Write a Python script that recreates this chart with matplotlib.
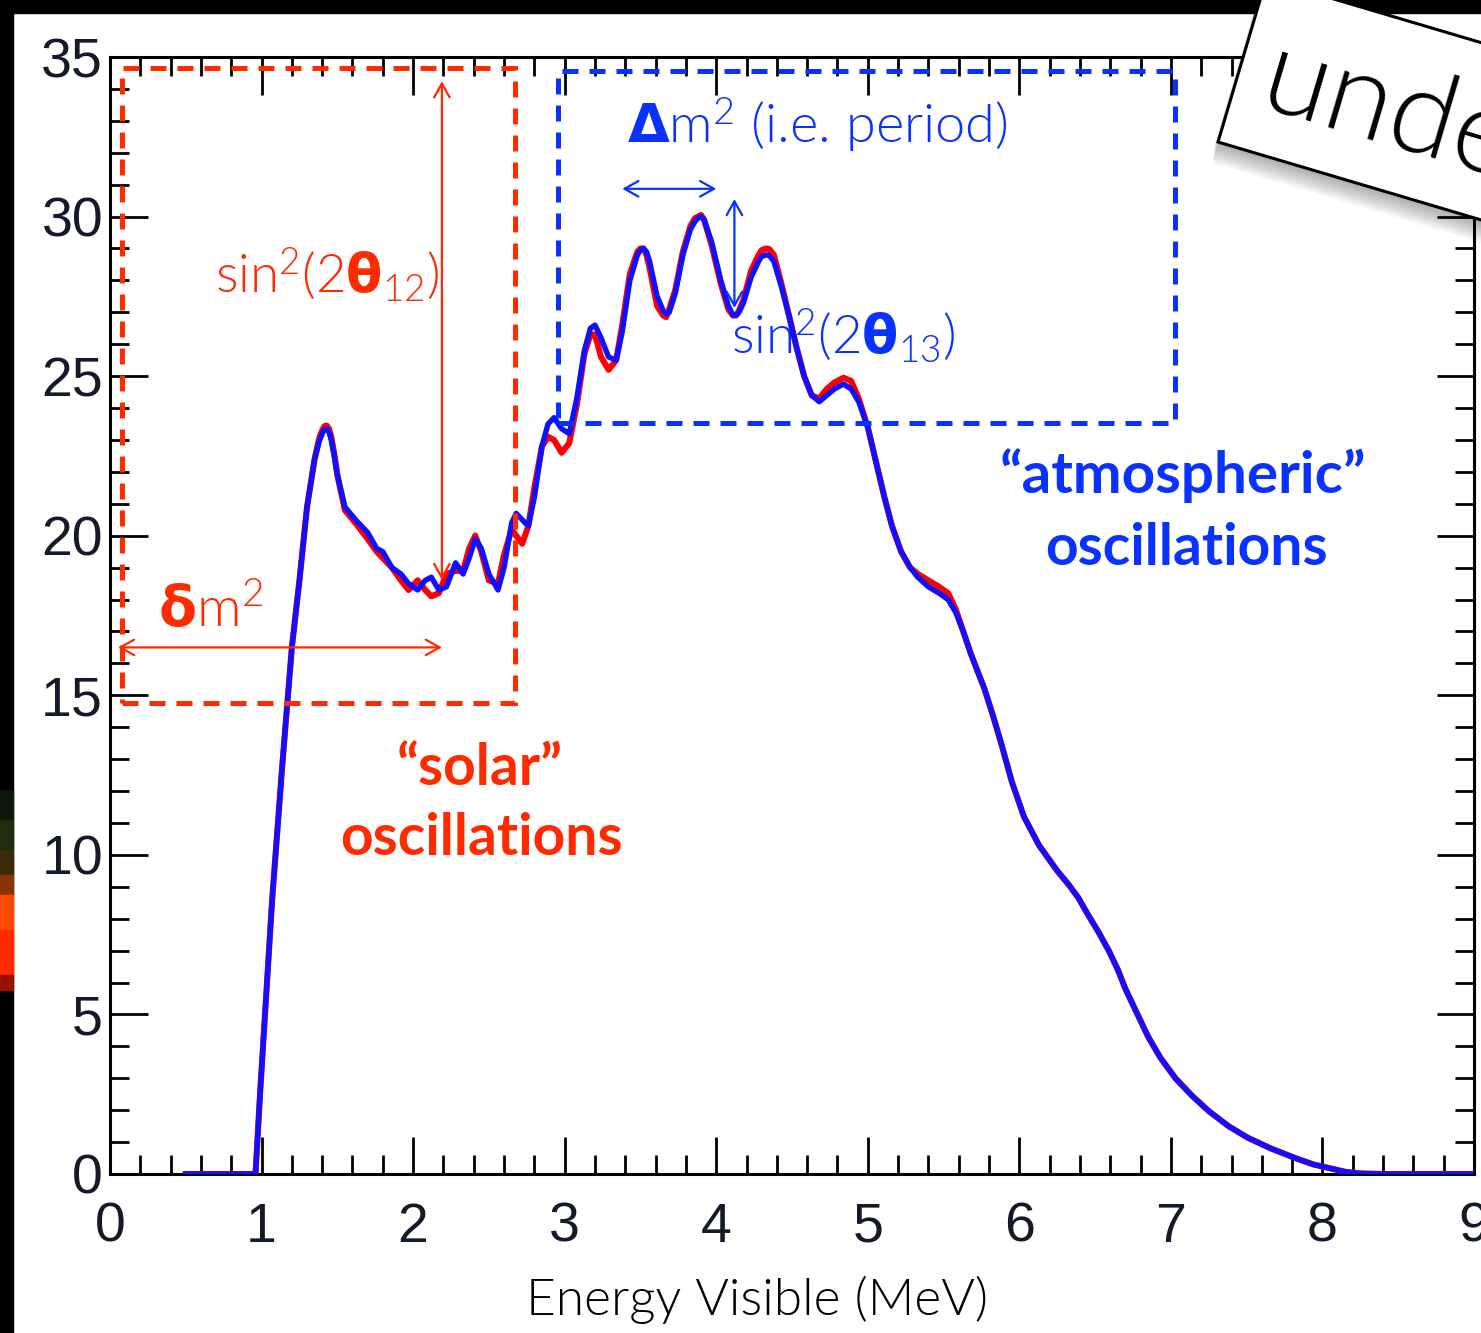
import matplotlib
matplotlib.use("Agg")
import matplotlib.pyplot as plt
import matplotlib.transforms as mtransforms
from matplotlib.patches import Rectangle

# spectrum (blue and red curves)
energy = [0.50, 0.96, 0.99, 1.07, 1.135, 1.20, 1.25, 1.30, 1.35, 1.38, 1.40, 1.415,
          1.43, 1.445, 1.46, 1.48,
          1.50, 1.55, 1.62, 1.70, 1.76, 1.80, 1.86, 1.92, 1.97, 2.03, 2.08, 2.12,
          2.17, 2.22, 2.28, 2.33, 2.37, 2.41, 2.45, 2.50, 2.56, 2.60, 2.65, 2.68,
          2.72, 2.76, 2.80, 2.85, 2.89, 2.93, 2.98, 3.03, 3.08, 3.13, 3.17, 3.20,
          3.24, 3.29, 3.34, 3.38, 3.43, 3.48,
          3.50, 3.52, 3.54, 3.56, 3.61, 3.65, 3.67, 3.69, 3.73, 3.78, 3.83, 3.86,
          3.88, 3.90, 3.92, 3.97, 4.03, 4.08, 4.11, 4.13, 4.15, 4.18, 4.23, 4.28,
          4.30, 4.33, 4.35, 4.38, 4.43,
          4.48, 4.53, 4.58, 4.63, 4.68, 4.73, 4.78, 4.84, 4.89, 4.94,
          5.00, 5.05, 5.11, 5.16, 5.22, 5.28, 5.33, 5.40, 5.47, 5.53,
          5.58, 5.63, 5.68, 5.77, 5.83, 5.88, 5.95, 6.03, 6.08, 6.13,
          6.19, 6.25, 6.32, 6.39, 6.45, 6.52, 6.59, 6.65, 6.70, 6.78,
          6.85, 6.93, 7.03, 7.14, 7.25, 7.38, 7.51, 7.66, 7.82, 7.94,
          8.04, 8.15, 8.24, 8.40, 9.00]
blue_counts = [0.0, 0.0, 2.5, 8.6, 12.7, 16.5, 18.6, 20.9, 22.4, 22.95, 23.2, 23.33,
               23.35, 23.25, 23.0, 22.5,
               21.9, 20.9, 20.5, 20.1, 19.6, 19.5, 19.0, 18.8, 18.5, 18.3, 18.6, 18.7,
               18.3, 18.4, 19.15, 18.8, 19.3, 19.9, 19.6, 18.8, 18.3, 19.0, 20.4, 20.7,
               20.5, 20.3, 21.2, 22.8, 23.5, 23.7, 23.35, 23.2, 24.3, 25.8, 26.5, 26.6,
               26.2, 25.6, 25.5, 26.4, 28.0, 28.8,
               28.95, 29.0, 28.9, 28.6, 27.5, 27.05, 26.95, 27.0, 27.6, 28.8, 29.6, 29.85,
               29.95, 30.0, 29.9, 29.2, 28.0, 27.2, 26.92, 26.9, 27.0, 27.3, 28.1, 28.6,
               28.75, 28.8, 28.78, 28.6, 27.8,
               26.9, 25.9, 25.0, 24.4, 24.2, 24.4, 24.6, 24.75, 24.6, 24.2,
               23.4, 22.4, 21.2, 20.3, 19.5, 19.0, 18.7, 18.4, 18.2, 18.0,
               17.6, 17.0, 16.3, 15.2, 14.3, 13.5, 12.3, 11.2, 10.75, 10.3,
               9.9, 9.5, 9.1, 8.65, 8.15, 7.6, 7.0, 6.4, 5.8, 5.0,
               4.3, 3.65, 3.0, 2.45, 1.97, 1.5, 1.13, 0.8, 0.5, 0.3,
               0.19, 0.07, 0.02, 0.0, 0.0]
red_counts = [0.0, 0.0, 2.5, 8.6, 12.7, 16.5, 18.6, 20.9, 22.4, 23.05, 23.3, 23.43,
              23.45, 23.35, 23.1, 22.55,
              21.9, 20.8, 20.4, 19.9, 19.5, 19.3, 19.0, 18.6, 18.3, 18.6, 18.3, 18.1,
              18.2, 18.8, 18.9, 18.9, 19.6, 20.0, 19.5, 18.6, 18.5, 19.4, 20.2, 20.0,
              19.75, 20.3, 21.5, 22.8, 23.1, 23.0, 22.6, 22.9, 24.1, 25.7, 26.3, 26.3,
              25.6, 25.2, 25.5, 26.6, 28.2, 28.9,
              29.0, 29.0, 28.8, 28.4, 27.2, 26.9, 26.85, 27.1, 27.7, 28.9, 29.7, 29.95,
              30.0, 30.05, 29.9, 29.1, 27.9, 27.1, 26.9, 26.9, 27.05, 27.4, 28.3, 28.8,
              28.95, 29.0, 28.98, 28.8, 27.9,
              26.9, 25.9, 25.0, 24.4, 24.3, 24.6, 24.8, 24.95, 24.85, 24.3,
              23.4, 22.4, 21.2, 20.3, 19.5, 19.0, 18.8, 18.6, 18.4, 18.2,
              17.7, 17.0, 16.3, 15.2, 14.3, 13.5, 12.3, 11.2, 10.75, 10.3,
              9.9, 9.5, 9.1, 8.65, 8.15, 7.6, 7.0, 6.4, 5.8, 5.0,
              4.3, 3.65, 3.0, 2.45, 1.97, 1.5, 1.13, 0.8, 0.5, 0.3,
              0.19, 0.07, 0.02, 0.0, 0.0]

xticks = [0, 1, 2, 3, 4, 5, 6, 7, 8, 9]
yticks = [0, 5, 10, 15, 20, 25, 30, 35]

RED = "#ff2a00"
BLUE = "#0a32ff"

plt.rcParams['mathtext.fontset'] = 'custom'
plt.rcParams['mathtext.default'] = 'regular'
plt.rcParams['mathtext.bf'] = 'DejaVu Sans:bold'
thin = dict(family=['Lato', 'DejaVu Sans'], weight=300)
heavy = dict(family=['Lato', 'DejaVu Sans'], weight='bold')

W, H = 1481, 1333
fig = plt.figure(figsize=(W / 100, H / 100), dpi=100)
fig.patch.set_facecolor('white')
ax = fig.add_axes([110 / W, (H - 1174) / H, (1474 - 110) / W, (1174 - 57) / H])

ax.plot(energy, red_counts, color='#ff0000', lw=4.4, zorder=3, solid_joinstyle='round')
ax.plot(energy, blue_counts, color='#1010ff', lw=3.9, zorder=4, solid_joinstyle='round')

ax.set_xlim(0, 9)
ax.set_ylim(0, 35)
ax.set_xticks(xticks)
ax.set_yticks(yticks)
ax.set_xticks([i * 0.2 for i in range(46)], minor=True)
ax.set_yticks(list(range(36)), minor=True)
ax.tick_params(which='both', direction='in', top=True, right=True, width=2, color='black')
ax.tick_params(which='major', length=27)
ax.tick_params(which='minor', length=14)
ax.tick_params(axis='x', which='major', pad=20)
ax.tick_params(axis='y', which='major', pad=5)
for lab in ax.get_xticklabels() + ax.get_yticklabels():
    lab.set_fontfamily(['Liberation Sans', 'DejaVu Sans'])
    lab.set_fontsize(40)
    lab.set_color('#141a2a')
for sp in ax.spines.values():
    sp.set_linewidth(2.2)

# dashed boxes
ax.add_patch(Rectangle((0.08, 14.76), 2.59, 19.9, fill=False, ec=RED, lw=3.6,
                       ls=(0, (3.2, 2.2)), zorder=5))
ax.add_patch(Rectangle((2.955, 23.53), 4.075, 11.04, fill=False, ec=BLUE, lw=3.6,
                       ls=(0, (3.2, 2.2)), zorder=5))

arrow = dict(arrowstyle='<->,head_length=0.5,head_width=0.28', lw=1.6,
             shrinkA=0, shrinkB=0, mutation_scale=20)
ax.annotate('', xy=(2.19, 34.24), xytext=(2.19, 18.61), arrowprops=dict(arrow, color=RED), zorder=6)
ax.annotate('', xy=(0.053, 16.5), xytext=(2.19, 16.5), arrowprops=dict(arrow, color=RED), zorder=6)
ax.annotate('', xy=(3.38, 30.87), xytext=(4.0, 30.87), arrowprops=dict(arrow, color=BLUE), zorder=6)
ax.annotate('', xy=(4.12, 30.55), xytext=(4.12, 27.14), arrowprops=dict(arrow, color=BLUE), zorder=6)

ax.text(0.69, 27.6, r'sin$^2$(2$\mathbf{θ}_{12}$)', color=RED, fontsize=38, ha='left', va='baseline', **thin)
ax.text(0.32, 17.14, r'$\mathbf{δ}$m$^2$', color=RED, fontsize=40, ha='left', va='baseline', **thin)
ax.text(3.41, 32.3, r'$\mathbf{Δ}$m$^2$ (i.e. period)', color=BLUE, fontsize=39, ha='left', va='baseline', **thin)
ax.text(4.10, 25.67, r'sin$^2$(2$\mathbf{θ}_{13}$)', color=BLUE, fontsize=38, ha='left', va='baseline', **thin)

ax.text(2.44, 12.19, '\u201csolar\u201d', color=RED, fontsize=41, ha='center', va='baseline', **heavy)
ax.text(2.45, 10.0, 'oscillations', color=RED, fontsize=41, ha='center', va='baseline', **heavy)
ax.text(7.08, 21.34, '\u201catmospheric\u201d', color=BLUE, fontsize=42, ha='center', va='baseline', **heavy)
ax.text(7.10, 19.08, 'oscillations', color=BLUE, fontsize=41, ha='center', va='baseline', **heavy)

fig.text(757 / W, 18 / H, 'Energy Visible (MeV)', fontsize=37, ha='center', va='baseline', **thin)

# black slide border and glow at left
fig.add_artist(Rectangle((0, H - 13), W, 13, transform=None, color='black', zorder=20))
fig.add_artist(Rectangle((0, 0), 13, H, transform=None, color='black', zorder=20))
glow = [(790, 820, '#0e1807'), (820, 850, '#1e2c0f'), (850, 875, '#3a2a08'),
        (875, 895, '#8a3305'), (895, 930, '#ff4a00'), (930, 975, '#ff2a00'),
        (975, 990, '#9a1000')]
for y_top, y_bot, c in glow:
    fig.add_artist(Rectangle((0, H - y_bot), 13, y_bot - y_top, transform=None, color=c, zorder=21))

# rotated sticky label "unde" at top right
cx, cy = 1218, H - 142
rot = mtransforms.Affine2D().rotate_deg_around(cx, cy, -16.5)
for i in range(10):
    fig.add_artist(Rectangle((cx - 3 + i * 0.4, cy - 2 - i * 2.2), 700, 170, transform=rot,
                             color='black', alpha=0.035, lw=0, zorder=22))
fig.add_artist(Rectangle((cx, cy), 700, 170, transform=rot, fc='white', ec='black', lw=2.2, zorder=23))
fig.text(1256 / W, (H - 108) / H, 'unde', fontsize=86, rotation=-16.5, rotation_mode='anchor',
         ha='left', va='baseline', zorder=24, **thin)

fig.savefig('out.png', dpi=100)
